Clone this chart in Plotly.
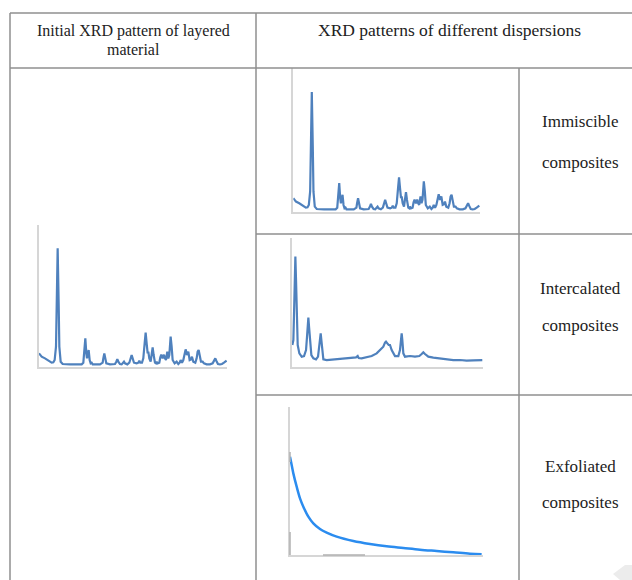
import plotly.graph_objects as go

# ---------------- data ----------------
# Initial XRD pattern of layered material (also shown for immiscible composites)
layered_2theta = [5.0, 5.8, 6.8, 7.8, 8.8, 9.3, 9.7, 10.1, 10.3, 10.6, 10.9, 11.1, 11.5, 12.1, 14.3, 17.8,
                  18.3, 18.6, 18.9, 19.2, 19.4, 19.6, 19.9, 20.2, 20.5, 20.8, 21.1, 23.3, 24.1, 24.3, 24.6,
                  24.9, 25.2, 26.3, 27.8, 28.2, 28.5, 28.8, 29.3, 29.8, 30.2, 30.5, 30.8, 31.5, 32.1, 32.5,
                  32.8, 33.1, 33.5, 34.3, 34.8, 35.1, 35.4, 35.9, 36.3, 36.7, 37.0, 37.3, 37.6, 37.8, 38.1,
                  38.5, 38.8, 39.1, 39.4, 39.8, 40.1, 40.3, 40.6, 41.1, 41.4, 41.7, 42.1, 42.5, 42.8, 43.1,
                  43.5, 43.8, 44.1, 44.3, 44.5, 44.8, 45.1, 45.7, 46.3, 46.8, 47.2, 47.5, 47.9, 48.3, 48.7,
                  49.0, 49.4, 49.8, 50.2, 50.6, 50.9, 51.3, 51.9, 52.3, 52.6, 52.9, 53.2, 53.6, 54.1, 54.5,
                  55.3, 56.3, 57.1, 57.6, 57.9, 58.2, 58.7, 59.3, 59.9, 60.5, 61.3]
layered_intensity = [33, 23, 18, 11, 5, 6, 13, 53, 183, 348, 183, 53, 8, 1, 0, 0,
                     5, 33, 78, 33, 18, 28, 43, 13, 3, 5, 0, 0, 5, 18, 33,
                     18, 3, 0, 1, 8, 16, 8, 1, 0, 5, 8, 3, 0, 5, 18,
                     28, 18, 5, 3, 5, 11, 5, 5, 18, 63, 95, 63, 33, 38, 18,
                     8, 28, 51, 28, 5, 3, 8, 3, 5, 21, 29, 18, 29, 18, 13,
                     38, 18, 28, 63, 83, 53, 13, 3, 8, 1, 5, 13, 5, 13, 33,
                     45, 28, 38, 13, 15, 23, 8, 5, 18, 38, 43, 28, 8, 8, 3,
                     0, 0, 3, 13, 18, 11, 1, 0, 1, 5, 11]

# Intercalated composites
intercal_2theta = [5.2, 5.5, 5.7, 5.9, 6.1, 6.3, 6.5, 6.8, 7.3, 8.0, 8.7, 9.3, 9.6, 9.8, 10.0, 10.2,
                   10.5, 10.9, 11.5, 12.3, 12.9, 13.3, 13.5, 13.7, 13.9, 14.2, 14.5, 15.5, 17.5, 19.5,
                   21.5, 23.5, 24.3, 24.8, 25.1, 26.0, 27.5, 29.0, 30.5, 31.5, 32.5, 33.0, 33.3, 33.7,
                   34.1, 34.5, 35.0, 36.0, 37.0, 37.5, 37.8, 38.0, 38.2, 38.5, 39.0, 40.5, 42.0, 43.3,
                   44.0, 44.5, 45.0, 46.0, 47.5, 49.5, 51.5, 53.5, 55.5, 57.5, 59.5, 61.5, 62.2]
intercal_intensity = [55, 70, 150, 280, 320, 250, 120, 55, 30, 20, 22, 40, 80, 120, 137, 110,
                      60, 25, 15, 12, 20, 50, 80, 90, 70, 25, 12, 10, 12, 14,
                      14, 16, 18, 22, 16, 15, 18, 22, 30, 40, 50, 62, 65, 60,
                      55, 55, 40, 22, 22, 40, 80, 90, 70, 30, 20, 22, 20, 22,
                      28, 33, 28, 20, 17, 14, 12, 10, 10, 8, 9, 9, 10]

# Exfoliated composites
exfol_2theta = [5.0, 5.5, 6.0, 7.0, 8.0, 9.0, 10.5, 12.0, 14.0, 16.0, 19.0, 24.0, 29.0, 34.0,
                39.0, 44.0, 49.0, 54.0, 59.0, 62.5]
exfol_intensity = [295, 270, 245, 205, 170, 145, 115, 95, 78, 67, 55, 42, 33, 26,
                   21, 16, 12, 8, 4, 2]

header_left = ["Initial XRD pattern of layered", "material"]
header_right = "XRD patterns of different dispersions"
row_labels = [("Immiscible", "composites"), ("Intercalated", "composites"), ("Exfoliated", "composites")]

# ---------------- layout helpers ----------------
W, H = 632, 580


def px(x):
    return x / W


def py(y):
    return 1 - y / H


XRD_COLOR = "#4f81bd"
EXF_COLOR = "#2b8cef"
AXIS_COLOR = "#d6d6d6"
BORDER = "#8f8f8f"
FONT = "Liberation Serif"

fig = go.Figure()

# panels: (x data, y data, color, x-domain px, y-domain px, x-range, y-range, shape, width)
panels = [
    (layered_2theta, layered_intensity, XRD_COLOR, (39, 227.3), (225, 366.7), [5, 61.5], [-7, 418], "linear", 2.2),
    (layered_2theta, layered_intensity, XRD_COLOR, (293.3, 480), (68.3, 211.7), [5, 61.5], [-7, 418], "linear", 2.2),
    (intercal_2theta, intercal_intensity, XRD_COLOR, (291.7, 483.3), (238.3, 366.7), [5, 62.5], [-10, 375], "linear", 2.2),
    (exfol_2theta, exfol_intensity, EXF_COLOR, (290, 483.3), (406.7, 555), [5, 63], [0, 445], "spline", 2.5),
]

for i, (xs, ys, col, xd, yd, xr, yr, shp, lw) in enumerate(panels, start=1):
    sfx = "" if i == 1 else str(i)
    fig.add_trace(go.Scatter(x=xs, y=ys, mode="lines", line=dict(color=col, width=lw, shape=shp),
                             xaxis="x" + sfx, yaxis="y" + sfx, showlegend=False, hoverinfo="skip"))
    axcommon = dict(showline=True, linecolor=AXIS_COLOR, linewidth=1.5, showgrid=False, zeroline=False,
                    showticklabels=False, ticks="", fixedrange=True)
    fig.update_layout(**{
        "xaxis" + sfx: dict(domain=[px(xd[0]), px(xd[1])], range=xr, anchor="y" + sfx, **axcommon),
        "yaxis" + sfx: dict(domain=[py(yd[1]), py(yd[0])], range=yr, anchor="x" + sfx, **axcommon),
    })

# table borders
lines = [
    (10, 13, 632, 13),
    (10, 68, 632, 68),
    (10, 13, 10, 580),
    (256, 13, 256, 580),
    (519, 68, 519, 580),
    (256, 234, 632, 234),
    (256, 395, 632, 395),
]
shapes = []
for x0, y0, x1, y1 in lines:
    shapes.append(dict(type="line", xref="paper", yref="paper", x0=px(x0), y0=py(y0), x1=px(x1), y1=py(y1),
                       line=dict(color=BORDER, width=1.5)))

# darker axis fragments in the exfoliated panel (image artefacts)
for x0, y0, x1, y1 in [(323, 555, 365, 555), (290, 532, 290, 555), (290, 452, 290, 462)]:
    shapes.append(dict(type="line", xref="paper", yref="paper", x0=px(x0), y0=py(y0), x1=px(x1), y1=py(y1),
                       line=dict(color="#b0b0b0", width=1.5)))

# light watermark corner
wm = [(613, 574), (625, 565), (632, 565), (632, 580), (620, 580)]
path = "M " + " L ".join(f"{px(a)},{py(b)}" for a, b in wm) + " Z"
shapes.append(dict(type="path", xref="paper", yref="paper", path=path, fillcolor="#ececec",
                   line=dict(width=0), layer="below"))

annotations = []
annotations.append(dict(text=header_left[0], x=px(133), y=py(31), xref="paper", yref="paper", showarrow=False,
                        font=dict(family=FONT, size=16, color="#222"), xanchor="center", yanchor="middle"))
annotations.append(dict(text=header_left[1], x=px(133), y=py(49), xref="paper", yref="paper", showarrow=False,
                        font=dict(family=FONT, size=16, color="#222"), xanchor="center", yanchor="middle"))
annotations.append(dict(text=header_right, x=px(449), y=py(30), xref="paper", yref="paper", showarrow=False,
                        font=dict(family=FONT, size=17.5, color="#222"), xanchor="center", yanchor="middle"))
label_y = [(122, 162), (288, 325), (466, 502)]
for (a, b), (ya, yb) in zip(row_labels, label_y):
    for t, yy in ((a, ya), (b, yb)):
        annotations.append(dict(text=t, x=px(580), y=py(yy), xref="paper", yref="paper", showarrow=False,
                                font=dict(family=FONT, size=17, color="#222"), xanchor="center", yanchor="middle"))

fig.update_layout(width=W, height=H, margin=dict(l=0, r=0, t=0, b=0), autosize=False,
                  paper_bgcolor="white", plot_bgcolor="white", shapes=shapes, annotations=annotations)

fig.write_html("out.html", config={"displayModeBar": False},
               post_script="document.body.style.margin='0';document.body.style.overflow='hidden';")
